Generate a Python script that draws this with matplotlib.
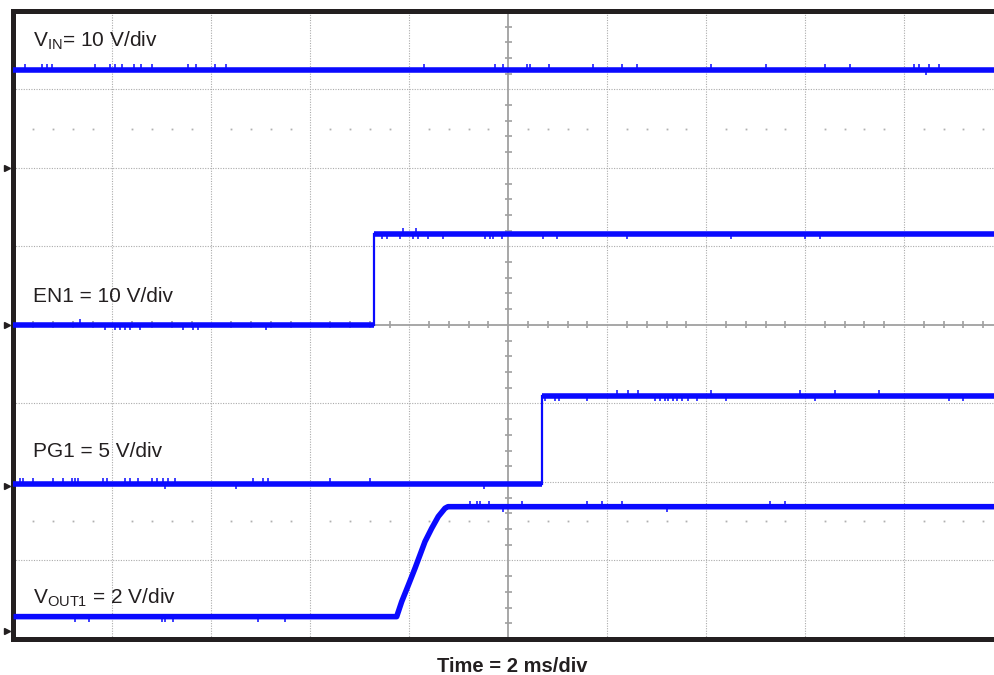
import numpy as np
import matplotlib
matplotlib.use("Agg")
import matplotlib.pyplot as plt

plt.rcParams['font.family'] = ['Liberation Sans', 'DejaVu Sans']
plt.rcParams['mathtext.fontset'] = 'custom'
plt.rcParams['mathtext.rm'] = 'Liberation Sans'
plt.rcParams['mathtext.it'] = 'Liberation Sans:italic'
plt.rcParams['mathtext.bf'] = 'Liberation Sans:bold'

# ---------------- data (time in ms, voltages in V) ----------------
time_span_ms = [0.0, 20.0]
ms_per_div = 2.0

channel_names = ['VIN', 'EN1', 'PG1', 'VOUT1']
channel_labels = [r'$\mathrm{V_{IN}}$= 10 V/div', 'EN1 = 10 V/div',
                  'PG1 = 5 V/div', r'$\mathrm{V_{OUT1}}$ = 2 V/div']
volts_per_div = [10.0, 10.0, 5.0, 2.0]

vin_t_ms = [0.0, 20.0]
vin_v = [12.5, 12.5]
vin_glitch_up_ms = [0.23, 0.57, 0.68, 0.78, 1.65, 1.95, 2.05, 2.2, 2.44, 2.58, 2.8,
                    3.53, 3.69, 4.07, 4.3, 8.30, 9.73, 9.89, 10.38, 10.44, 10.82,
                    11.71, 12.3, 12.6, 14.1, 15.2, 16.4, 16.9, 18.2, 18.3, 18.5, 18.7]
vin_glitch_down_ms = [18.45]

en1_t_ms = [0.0, 7.29, 7.29, 20.0]
en1_v = [0.0, 0.0, 11.6, 11.6]
en1_glitch_up_ms = [1.35, 7.88, 8.14]
en1_glitch_down_ms = [1.85, 2.05, 2.15, 2.25, 2.35, 2.56, 3.43, 3.63, 3.73, 5.1,
                      7.45, 7.55, 7.82, 8.08, 8.18, 8.38, 8.68, 9.53, 9.63,
                      9.69, 9.87, 10.70, 10.99, 12.4, 14.5, 16.0, 16.3]

pg1_t_ms = [0.0, 10.68, 10.68, 20.0]
pg1_v = [0.15, 0.15, 5.73, 5.73]
pg1_glitch_up_ms = [0.13, 0.2, 0.4, 0.8, 1.0, 1.18, 1.24, 1.3, 1.81, 1.89, 2.25,
                    2.35, 2.52, 2.8, 2.9, 3.02, 3.12, 3.26, 4.84, 5.04, 5.14,
                    6.4, 7.2, 12.2, 12.42, 12.62, 14.1, 15.9, 16.6, 17.5]
pg1_glitch_down_ms = [3.06, 4.5, 9.5, 10.75, 10.95, 11.03, 11.59, 12.97, 13.07,
                      13.17, 13.23, 13.33, 13.41, 13.51, 13.64, 13.82, 14.4,
                      16.2, 18.9, 19.2]

vout_t_ms = [0.0, 7.745, 7.846, 7.980, 8.115, 8.216, 8.317, 8.453, 8.586, 8.722, 8.782, 20.0]
vout_v = [0.37, 0.37, 0.75, 1.17, 1.60, 1.94, 2.28, 2.62, 2.92, 3.13, 3.17, 3.17]
vout_glitch_up_ms = [9.23, 9.37, 9.43, 9.61, 10.28, 11.6, 11.9, 12.3, 15.3, 15.6]
vout_glitch_down_ms = [1.24, 1.53, 3.0, 3.06, 3.22, 4.94, 5.49, 9.9, 13.2]

# ---------------- layout / style ----------------
W, H = 995, 675
ground_div = [6.0, 4.0, 1.95, 0.10]
label_pos_div = [(0.197, 7.54), (0.197, 4.29), (0.197, 2.32), (0.197, 0.45)]
trace_color = '#0a0aff'
ink = '#231f20'
grid_color = '#ababab'

fig = plt.figure(figsize=(W / 100, H / 100), dpi=100)
ax = fig.add_axes([13.5 / W, (H - 639.0) / H, (1003.0 - 13.5) / W, (639.0 - 10.8) / H])
ax.set_xlim(0, 10)
ax.set_ylim(0, 8)
ax.set_xticks([])
ax.set_yticks([])
for s in ['left', 'top', 'bottom']:
    ax.spines[s].set_color(ink)
    ax.spines[s].set_linewidth(3.6)
ax.spines['right'].set_visible(False)

# graticule
for xg in range(1, 10):
    if xg != 5:
        ax.axvline(xg, color=grid_color, lw=0.8, ls=(0, (1, 1.3)), zorder=1)
for yg in range(1, 8):
    if yg != 4:
        ax.axhline(yg, color=grid_color, lw=0.8, ls=(0, (1, 1.3)), zorder=1)
ax.axhline(4, color='#a0a0a0', lw=1.3, zorder=1)
ax.axvline(5, color='#a0a0a0', lw=1.3, zorder=1)
minor = [k / 5 for k in range(1, 50) if k % 5 != 0]
ax.vlines(minor, 4 - 0.045, 4 + 0.045, color='#a0a0a0', lw=1.2, zorder=1)
minor_y = [k / 5 for k in range(1, 40) if k % 5 != 0]
ax.hlines(minor_y, 5 - 0.035, 5 + 0.035, color='#a0a0a0', lw=1.2, zorder=1)
for yr in (1.5, 6.5):
    ax.plot(minor, [yr] * len(minor), ls='none', marker='s', ms=1.3,
            color='#b0b0b0', mec='none', zorder=1)


def to_div(t_ms, v, ch):
    x = np.asarray(t_ms, float) / ms_per_div
    y = ground_div[ch] + np.asarray(v, float) / volts_per_div[ch]
    return x, y


def draw_trace(t_ms, v, ch):
    x, y = to_div(t_ms, v, ch)
    run_x, run_y = [x[0]], [y[0]]
    for i in range(1, len(x)):
        if x[i] == x[i - 1]:
            ax.plot(run_x, run_y, color=trace_color, lw=4.0,
                    solid_capstyle='butt', solid_joinstyle='round', zorder=3)
            ax.plot([x[i - 1], x[i]], [y[i - 1], y[i]], color=trace_color,
                    lw=1.6, zorder=3)
            run_x, run_y = [x[i]], [y[i]]
        else:
            run_x.append(x[i])
            run_y.append(y[i])
    ax.plot(run_x, run_y, color=trace_color, lw=4.0,
            solid_capstyle='butt', solid_joinstyle='round', zorder=3)


def draw_glitches(t_ms, v, gl, ch, sign):
    if not gl:
        return
    gx = np.asarray(gl, float) / ms_per_div
    xs, ys = to_div(t_ms, v, ch)
    base = np.interp(gx, xs, ys)
    ax.vlines(gx, base, base + sign * 0.07, color=trace_color, lw=1.1, zorder=3)


traces = [(vin_t_ms, vin_v, vin_glitch_up_ms, vin_glitch_down_ms),
          (en1_t_ms, en1_v, en1_glitch_up_ms, en1_glitch_down_ms),
          (pg1_t_ms, pg1_v, pg1_glitch_up_ms, pg1_glitch_down_ms),
          (vout_t_ms, vout_v, vout_glitch_up_ms, vout_glitch_down_ms)]
for ch, (t, v, gu, gd) in enumerate(traces):
    draw_trace(t, v, ch)
    draw_glitches(t, v, gu, ch, +1)
    draw_glitches(t, v, gd, ch, -1)
    # ground reference marker
    ax.plot([-0.066], [ground_div[ch]], marker='>', ms=4.5, color=ink,
            clip_on=False, zorder=5)
    lx, ly = label_pos_div[ch]
    ax.text(lx, ly, channel_labels[ch], fontsize=15, color=ink,
            ha='left', va='baseline', zorder=4)

fig.text(512 / W, 3.5 / H, 'Time = 2 ms/div', fontsize=14.5, fontweight='bold',
         color=ink, ha='center', va='baseline')

fig.savefig('out.png', dpi=100)
